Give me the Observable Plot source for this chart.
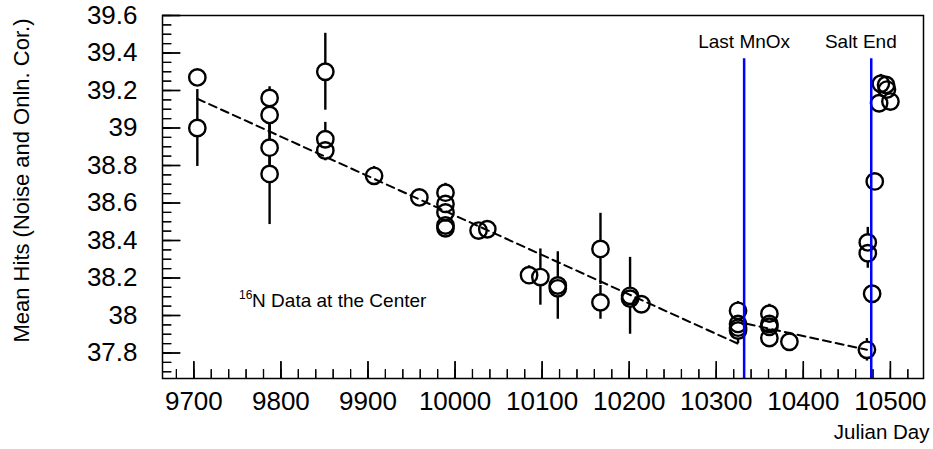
<!DOCTYPE html>
<html><head><meta charset="utf-8">
<script src="https://cdn.jsdelivr.net/npm/d3@7"></script>
<script src="https://cdn.jsdelivr.net/npm/@observablehq/plot@0.6"></script>
<style>body{margin:0;background:#fff;} svg{display:block}</style>
</head><body><div id="chart"></div>
<script>
// ---- data ----
const days = [9704, 9704,
  9787, 9787, 9787, 9787,
  9851, 9851, 9851,
  9907, 9959,
  9989, 9989, 9989, 9989, 9989,
  10027, 10037,
  10085, 10098, 10118, 10118,
  10167, 10167,
  10201, 10201, 10214,
  10325, 10325, 10325, 10325,
  10361, 10361, 10361, 10361,
  10384,
  10473, 10479, 10474, 10474, 10482,
  10489, 10495, 10496, 10487, 10500];
const values = [39.27, 39.00,
  39.16, 39.07, 38.895, 38.755,
  39.30, 38.94, 38.88,
  38.745, 38.63,
  38.655, 38.595, 38.55, 38.48, 38.465,
  38.453, 38.46,
  38.215, 38.205, 38.16, 38.145,
  38.355, 38.07,
  38.105, 38.09, 38.06,
  38.025, 37.955, 37.935, 37.92,
  38.01, 37.955, 37.94, 37.88,
  37.86,
  37.817, 38.116, 38.39, 38.332, 38.715,
  39.236, 39.23, 39.205, 39.132, 39.141];
const errors = [0.02, 0.205,
  0.06, 0.10, 0.12, 0.27,
  0.205, 0.09, 0.055,
  0.05, 0.04,
  0.05, 0.04, 0.04, 0.04, 0.04,
  0.03, 0.04,
  0.05, 0.15, 0.18, 0.05,
  0.19, 0.09,
  0.205, 0.05, 0.04,
  0.05, 0.05, 0.05, 0.07,
  0.05, 0.05, 0.05, 0.05,
  0.05,
  0.06, 0.04, 0.08, 0.08, 0.04,
  0.05, 0.04, 0.04, 0.05, 0.04];
const fitSeries = ["fit1", "fit1", "fit2", "fit2"];
const fitDays = [9704, 10327, 10335, 10473];
const fitValues = [39.156, 37.845, 37.956, 37.817];
const markerDays = [10332, 10478];
const markerTop = 39.37;
const markerLabels = ["Last MnOx", "Salt End"];
const markerLabelDays = [10332, 10466];
const annotationSup = "16";
const annotationText = "N Data at the Center";
const annotationDay = 9752;
const annotationValue = 38.048;
const xTitle = "Julian Day";
const yTitle = "Mean Hits (Noise and Onln. Cor.)";
const xTicks = [9700, 9800, 9900, 10000, 10100, 10200, 10300, 10400, 10500];
const yTicks = [37.8, 38, 38.2, 38.4, 38.6, 38.8, 39, 39.2, 39.4, 39.6];
const xDomain = [9664, 10538];
const yDomain = [37.664, 39.6];
const xMinor = d3.range(9680, 10538, 20);
const yMinor = d3.range(37.7, 39.61, 0.05).map(v => +v.toFixed(2));

// ---- build ----
const points = days.map((d, i) => ({day: d, value: values[i], err: errors[i]}));
const fit = fitDays.map((d, i) => ({day: d, value: fitValues[i], s: fitSeries[i]}));
const markers = markerDays.map((d, i) => ({day: d, label: markerLabels[i], labelDay: markerLabelDays[i]}));
const annotation = [{day: annotationDay, value: annotationValue, sup: annotationSup, text: annotationText}];

const W = 933, H = 449, mL = 162, mR = 10, mT = 15, mB = 71;
const iW = W - mL - mR, iH = H - mT - mB;
const font = "Liberation Sans, Arial, Helvetica, sans-serif";
const pxPerDay = iW / (xDomain[1] - xDomain[0]);
const pxPerUnit = iH / (yDomain[1] - yDomain[0]);
const yTickLen = (px) => px / pxPerDay;
const xTickLen = (px) => px / pxPerUnit;

const chart = Plot.plot({
  width: W, height: H,
  marginLeft: mL, marginRight: mR, marginTop: mT, marginBottom: mB,
  x: {domain: xDomain},
  y: {domain: yDomain},
  style: {background: "#fff", color: "#000"},
  marks: [
    // inward ticks (ROOT style), drawn as links
    Plot.link(yMinor, {x1: xDomain[0], x2: xDomain[0] + yTickLen(9), y1: d => d, y2: d => d, stroke: "#000", strokeWidth: 1.2}),
    Plot.link(yTicks, {x1: xDomain[0], x2: xDomain[0] + yTickLen(18), y1: d => d, y2: d => d, stroke: "#000", strokeWidth: 1.4}),
    Plot.link(xMinor, {x1: d => d, x2: d => d, y1: yDomain[0], y2: yDomain[0] + xTickLen(9), stroke: "#000", strokeWidth: 1.2}),
    Plot.link(xTicks, {x1: d => d, x2: d => d, y1: yDomain[0], y2: yDomain[0] + xTickLen(17), stroke: "#000", strokeWidth: 1.4}),
    // inward ticks again through the axis marks
    Plot.axisY(yMinor, {tickSize: -9, tickFormat: () => "", stroke: "#000", strokeWidth: 1.2, label: null}),
    Plot.axisY(yTicks, {tickSize: -18, tickFormat: () => "", stroke: "#000", strokeWidth: 1.4, label: null}),
    Plot.axisX(xMinor, {tickSize: -9, tickFormat: () => "", stroke: "#000", strokeWidth: 1.2, label: null}),
    Plot.axisX(xTicks, {tickSize: -17, tickFormat: () => "", stroke: "#000", strokeWidth: 1.4, label: null}),
    Plot.ruleX(points, {x: "day", y1: d => d.value - d.err, y2: d => d.value + d.err, stroke: "#000", strokeWidth: 2.4}),
    Plot.dot(points, {x: "day", y: "value", r: 8.2, fill: "#fff", stroke: "none"}),
    Plot.line(fit, {x: "day", y: "value", z: "s", stroke: "#000", strokeWidth: 2, strokeDasharray: "8,5"}),
    Plot.dot(points, {x: "day", y: "value", r: 8.2, fill: "none", stroke: "#000", strokeWidth: 2.4}),
    Plot.ruleX(markers, {x: "day", y1: markerTop, y2: yDomain[0], stroke: "#0000ff", strokeWidth: 2.5}),
    Plot.text(markers, {x: "labelDay", y: markerTop, text: "label", dy: -11, lineAnchor: "bottom", fontSize: 19, fontFamily: font, fill: "#000"}),
    Plot.text(annotation, {x: "day", y: "value", text: "sup", textAnchor: "start", lineAnchor: "bottom", dy: -8, fontSize: 12, fontFamily: font, fill: "#000"}),
    Plot.text(annotation, {x: "day", y: "value", text: "text", textAnchor: "start", lineAnchor: "bottom", dx: 13, fontSize: 19, fontFamily: font, fill: "#000"}),
    Plot.text([yTitle], {frameAnchor: "top-left", text: d => d, rotate: -90, textAnchor: "end", lineAnchor: "bottom", dx: -134, dy: 3, fontSize: 22, fontFamily: font, fill: "#000"}),
    Plot.text([xTitle], {frameAnchor: "bottom-right", text: d => d, textAnchor: "end", lineAnchor: "bottom", dx: 6, dy: 60, fontSize: 20.5, fontFamily: font, fill: "#000"}),
    Plot.frame({stroke: "#000", strokeWidth: 1.5}),
    Plot.axisX(xTicks, {tickSize: 0, tickPadding: 13, fontSize: 26, fontFamily: font, label: null, tickFormat: d => String(d)}),
    Plot.axisY(yTicks, {tickSize: 0, tickPadding: 25, fontSize: 26, fontFamily: font, label: null, tickFormat: d => String(d)})
  ]
});

document.getElementById("chart").appendChild(chart);
</script>
</body></html>
